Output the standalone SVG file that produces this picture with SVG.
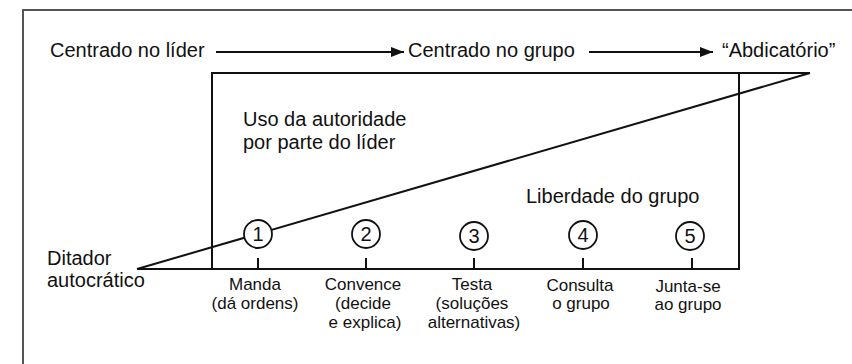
<svg xmlns="http://www.w3.org/2000/svg" width="852" height="364" viewBox="0 0 852 364">
<style>
text{font-family:"Liberation Sans",Arial,Helvetica,sans-serif;fill:#111}
.big{font-size:20px}
.sm{font-size:17px;text-anchor:middle}
.num{font-size:20px;text-anchor:middle}
.ln{stroke:#111;stroke-width:2;fill:none}
.circ{fill:#fff;stroke:#111;stroke-width:1.8}
</style>
<defs>
<marker id="ah" markerUnits="userSpaceOnUse" markerWidth="14" markerHeight="10" refX="13" refY="5" orient="auto">
<path d="M0,0 L13,5 L0,10 z" fill="#111"/>
</marker>
</defs>
<rect x="0" y="0" width="852" height="364" fill="#fff"/>
<rect id="frame" x="23" y="10" width="900" height="420" fill="none" stroke="#555" stroke-width="2"/>
<g id="chart">
<path class="ln" d="M212,269 L212,73 L810,73"/>
<path class="ln" d="M739,73 L739,269 L137,269"/>
<line class="ln" x1="137" y1="269" x2="810" y2="73"/>
</g>
<g id="connectors">
<line class="ln" x1="216" y1="52" x2="404" y2="52" marker-end="url(#ah)"/>
<line class="ln" x1="589" y1="52" x2="713" y2="52" marker-end="url(#ah)"/>
</g>
<g id="header-leader"><text class="big" x="50" y="57">Centrado no líder</text></g>
<g id="header-group"><text class="big" x="408" y="57">Centrado no grupo</text></g>
<g id="header-abdic"><text class="big" x="722" y="57">“Abdicatório”</text></g>
<g id="label-authority"><text class="big" x="243" y="126">Uso da autoridade</text><text class="big" x="243" y="149">por parte do líder</text></g>
<g id="label-freedom"><text class="big" x="526" y="203">Liberdade do grupo</text></g>
<g id="label-dictator"><text class="big" x="47" y="265">Ditador</text><text class="big" x="47" y="287">autocrático</text></g>
<g id="node1">
<line class="ln" x1="258" y1="258" x2="258" y2="269"/>
<circle class="circ" cx="258" cy="234" r="14"/>
<text class="num" x="258" y="241">1</text>
<text class="sm" x="255" y="290">Manda</text>
<text class="sm" x="255" y="309">(dá ordens)</text>
</g>
<g id="node2">
<line class="ln" x1="366" y1="258" x2="366" y2="269"/>
<circle class="circ" cx="366" cy="234" r="14"/>
<text class="num" x="366" y="241">2</text>
<text class="sm" x="363" y="290">Convence</text>
<text class="sm" x="363" y="309">(decide</text>
<text class="sm" x="365" y="328">e explica)</text>
</g>
<g id="node3">
<line class="ln" x1="474" y1="258" x2="474" y2="269"/>
<circle class="circ" cx="474" cy="236" r="14"/>
<text class="num" x="474" y="243">3</text>
<text class="sm" x="472" y="290">Testa</text>
<text class="sm" x="472" y="309">(soluções</text>
<text class="sm" x="474" y="328">alternativas)</text>
</g>
<g id="node4">
<line class="ln" x1="583" y1="258" x2="583" y2="269"/>
<circle class="circ" cx="583" cy="235" r="14"/>
<text class="num" x="583" y="242">4</text>
<text class="sm" x="580" y="291">Consulta</text>
<text class="sm" x="581" y="309">o grupo</text>
</g>
<g id="node5">
<line class="ln" x1="692" y1="258" x2="692" y2="269"/>
<circle class="circ" cx="690" cy="236" r="14"/>
<text class="num" x="690" y="243">5</text>
<text class="sm" x="688" y="292">Junta-se</text>
<text class="sm" x="688" y="310">ao grupo</text>
</g>
</svg>
